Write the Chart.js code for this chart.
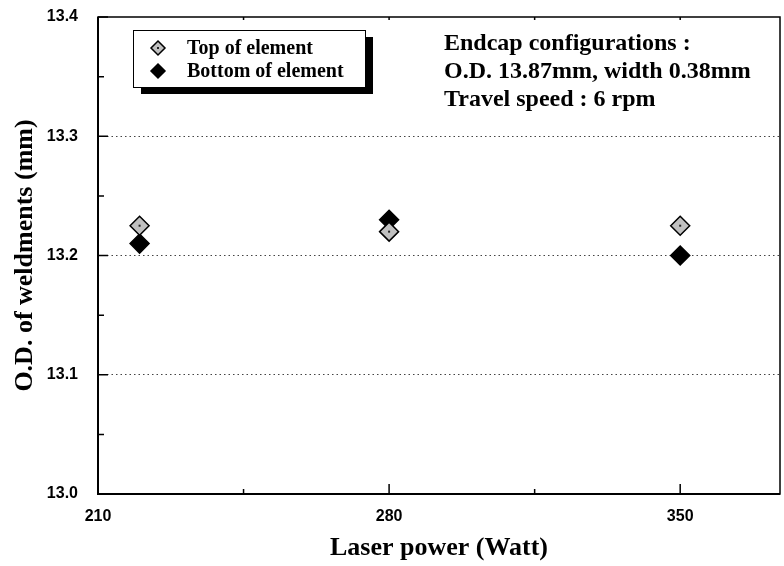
<!DOCTYPE html>
<html>
<head>
<meta charset="utf-8">
<script src="https://cdn.jsdelivr.net/npm/chart.js@4/dist/chart.umd.min.js"></script>
<style>
  html, body { margin: 0; padding: 0; background: #fff; }
  #wrap { width: 784px; height: 566px; position: relative; }
</style>
</head>
<body>
<div id="wrap"><canvas id="odChart" width="784" height="566"></canvas></div>
<script>
// data
const powerLevels  = [220, 280, 350];
const topOD        = [13.225, 13.22, 13.225];
const bottomOD     = [13.21, 13.23, 13.20];
const seriesNames  = ['Top of element', 'Bottom of element'];

const xTickValues  = [210, 280, 350];
const xMinorValues = [245, 315];
const yTickValues  = [13.0, 13.1, 13.2, 13.3, 13.4];
const yMinorValues = [13.05, 13.15, 13.25, 13.35];

const noteLines = [
  'Endcap configurations :',
  'O.D. 13.87mm, width 0.38mm',
  'Travel speed : 6 rpm',
];

const SERIF = '"Liberation Serif", "Times New Roman", serif';
const SANS  = '"Liberation Sans", Arial, sans-serif';

const toPoints = ys => powerLevels.map((x, i) => ({ x, y: ys[i] }));

function diamond(ctx, x, y, r) {
  ctx.beginPath();
  ctx.moveTo(x, y - r);
  ctx.lineTo(x + r, y);
  ctx.lineTo(x, y + r);
  ctx.lineTo(x - r, y);
  ctx.closePath();
}

/* ── frame, inward ticks, legend and note ───────────── */
const framePlugin = {
  id: 'frame',
  afterDatasetsDraw(chart) {
    // centre dot on the grey diamonds
    const ctx = chart.ctx;
    ctx.save();
    ctx.fillStyle = '#222';
    chart.getDatasetMeta(0).data.forEach(p => ctx.fillRect(p.x - 1, p.y - 1, 2, 2));
    ctx.restore();
  },
  afterDraw(chart) {
    const { ctx, chartArea: a, scales: { x, y } } = chart;
    ctx.save();
    ctx.strokeStyle = '#000';

    // box
    ctx.lineWidth = 1.5;
    ctx.strokeRect(a.left, a.top, a.right - a.left, a.bottom - a.top);
    ctx.lineWidth = 2;
    ctx.beginPath();
    ctx.moveTo(a.left, a.top);
    ctx.lineTo(a.left, a.bottom);
    ctx.lineTo(a.right, a.bottom);
    ctx.stroke();

    // ticks pointing into the plot
    ctx.lineWidth = 1.5;
    ctx.beginPath();
    xTickValues.forEach(v => {
      const px = x.getPixelForValue(v);
      ctx.moveTo(px, a.bottom); ctx.lineTo(px, a.bottom - 10);
      ctx.moveTo(px, a.top);    ctx.lineTo(px, a.top + 3);
    });
    xMinorValues.forEach(v => {
      const px = x.getPixelForValue(v);
      ctx.moveTo(px, a.bottom); ctx.lineTo(px, a.bottom - 5);
      ctx.moveTo(px, a.top);    ctx.lineTo(px, a.top + 3);
    });
    yTickValues.forEach(v => {
      const py = y.getPixelForValue(v);
      ctx.moveTo(a.left, py); ctx.lineTo(a.left + 10, py);
    });
    yMinorValues.forEach(v => {
      const py = y.getPixelForValue(v);
      ctx.moveTo(a.left, py); ctx.lineTo(a.left + 6, py);
    });
    ctx.stroke();

    // legend box with drop shadow
    const lx = 133, ly = 30, lw = 232, lh = 57;
    ctx.fillStyle = '#000';
    ctx.fillRect(lx + 8, ly + 7, lw, lh);
    ctx.fillStyle = '#fff';
    ctx.fillRect(lx, ly, lw, lh);
    ctx.lineWidth = 1;
    ctx.strokeRect(lx + 0.5, ly + 0.5, lw, lh);

    const rowY = [48, 71];
    chart.data.datasets.forEach((ds, i) => {
      diamond(ctx, 158, rowY[i], 7);
      ctx.fillStyle = ds.backgroundColor;
      ctx.fill();
      ctx.lineWidth = 1.5;
      ctx.strokeStyle = '#000';
      ctx.stroke();
      if (i === 0) { ctx.fillStyle = '#222'; ctx.fillRect(157, rowY[i] - 1, 2, 2); }
      ctx.fillStyle = '#000';
      ctx.font = 'bold 20px ' + SERIF;
      ctx.textBaseline = 'alphabetic';
      ctx.textAlign = 'left';
      ctx.fillText(ds.label, 187, rowY[i] + 6);
    });

    // configuration note
    ctx.font = 'bold 24px ' + SERIF;
    noteLines.forEach((t, i) => ctx.fillText(t, 444, 50 + i * 28));

    ctx.restore();
  },
};

new Chart(document.getElementById('odChart'), {
  type: 'scatter',
  data: {
    datasets: [
      {
        label: seriesNames[0],
        data: toPoints(topOD),
        pointStyle: 'rectRot',
        pointRadius: 9.5,
        pointHoverRadius: 9.5,
        backgroundColor: '#c0c0c0',
        borderColor: '#000',
        borderWidth: 1.5,
      },
      {
        label: seriesNames[1],
        data: toPoints(bottomOD),
        pointStyle: 'rectRot',
        pointRadius: 9.5,
        pointHoverRadius: 9.5,
        backgroundColor: '#000',
        borderColor: '#000',
        borderWidth: 1.5,
      },
    ],
  },
  options: {
    responsive: false,
    animation: false,
    events: [],
    layout: { autoPadding: false, padding: { top: 17, right: 4, left: 0, bottom: 0 } },
    plugins: { legend: { display: false }, tooltip: { enabled: false } },
    scales: {
      x: {
        type: 'linear',
        min: 210,
        max: 374,
        afterBuildTicks: s => { s.ticks = xTickValues.map(v => ({ value: v })); },
        afterFit: s => { s.height = 72; s.paddingLeft = 0; s.paddingRight = 0; },
        grid: { display: false, drawTicks: false },
        border: { display: false },
        ticks: {
          padding: 13,
          color: '#000',
          font: { family: SANS, size: 16, weight: 'bold' },
          callback: v => String(v),
        },
        title: {
          display: true,
          text: 'Laser power (Watt)',
          color: '#000',
          font: { family: SERIF, size: 26, weight: 'bold' },
          padding: { top: 0, bottom: 2 },
        },
      },
      y: {
        type: 'linear',
        min: 13.0,
        max: 13.4,
        afterBuildTicks: s => { s.ticks = yTickValues.map(v => ({ value: v })); },
        afterFit: s => { s.width = 98; s.paddingTop = 0; s.paddingBottom = 0; },
        grid: {
          drawTicks: false,
          lineWidth: 1,
          color: c => (c.tick && c.tick.value > 13.0 && c.tick.value < 13.4) ? '#444' : 'rgba(0,0,0,0)',
        },
        border: { display: false, dash: [1.5, 3] },
        ticks: {
          padding: 20,
          color: '#000',
          font: { family: SANS, size: 16, weight: 'bold' },
          callback: v => Number(v).toFixed(1),
        },
        title: {
          display: true,
          text: 'O.D. of weldments (mm)',
          color: '#000',
          font: { family: SERIF, size: 26, weight: 'bold' },
          padding: { top: 10, bottom: 0 },
        },
      },
    },
  },
  plugins: [framePlugin],
});
</script>
</body>
</html>
